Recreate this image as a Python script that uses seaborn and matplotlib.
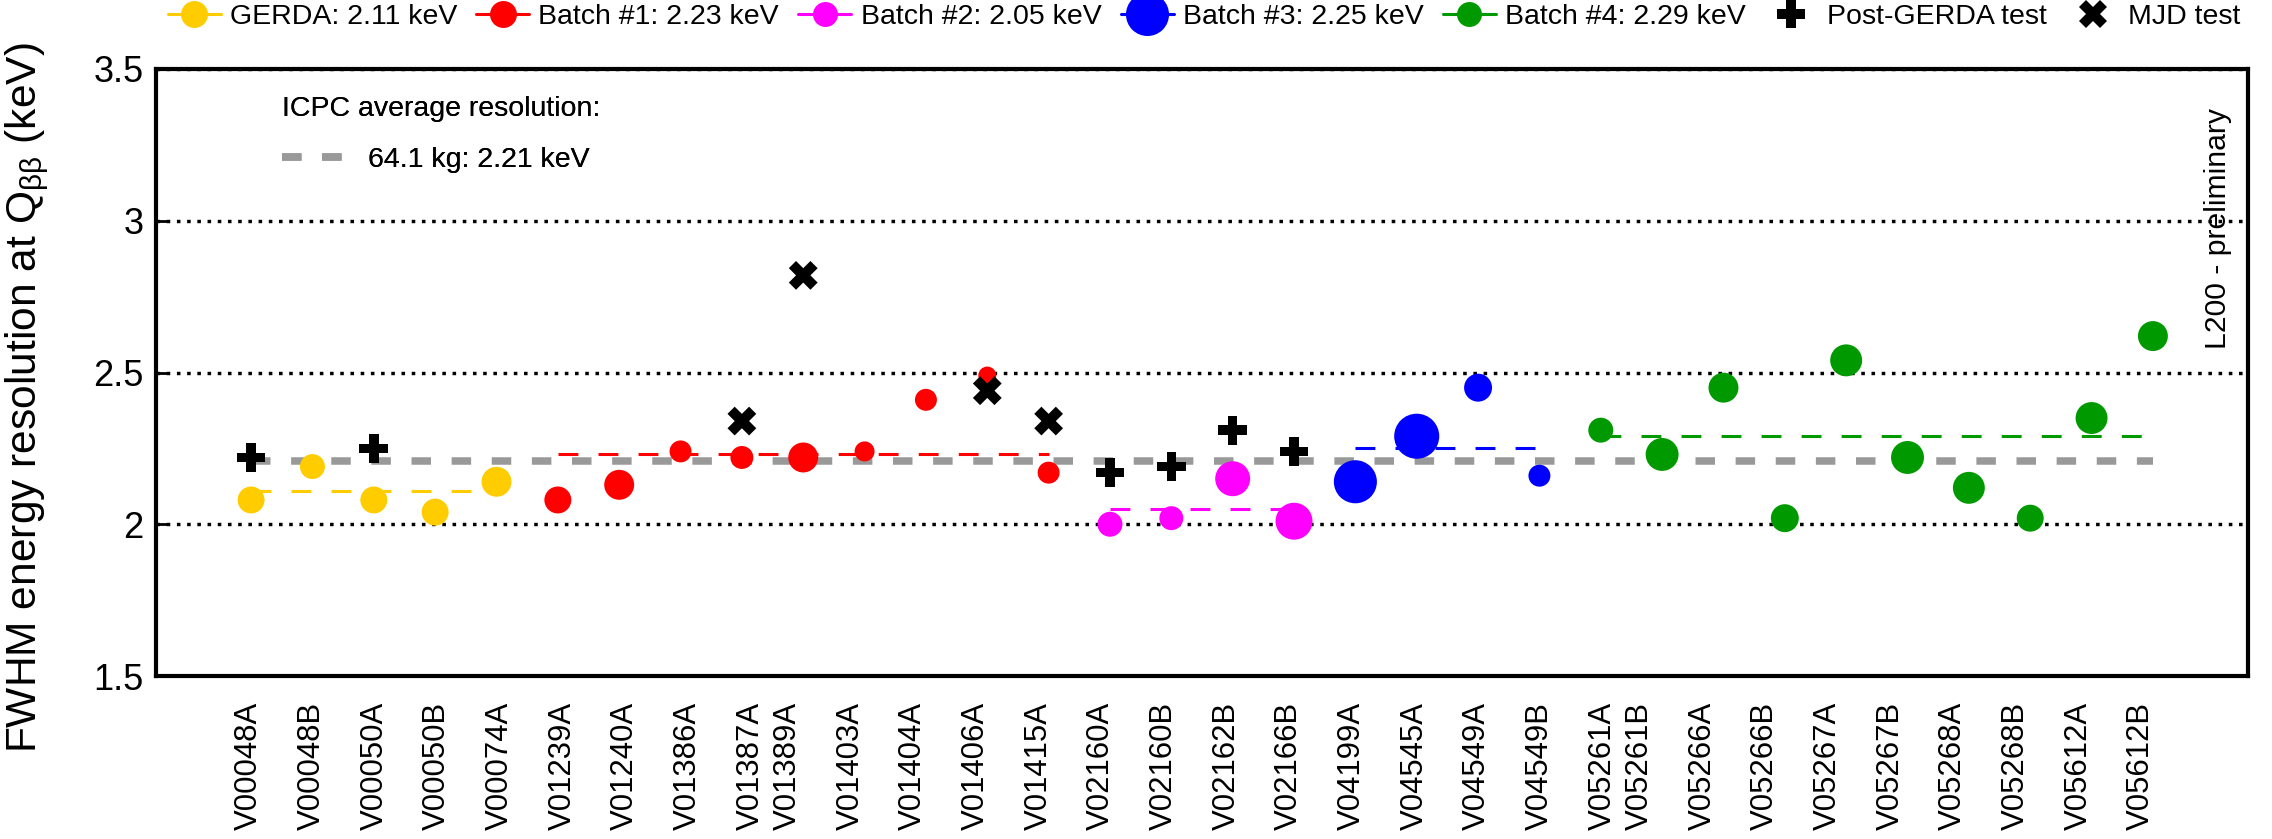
import numpy as np
import pandas as pd
import matplotlib
matplotlib.use("Agg")
import matplotlib.pyplot as plt
from matplotlib.lines import Line2D
import seaborn as sns

# ---------------- data ----------------
gerda_det = ["V00048A", "V00048B", "V00050A", "V00050B", "V00074A"]
batch1_det = ["V01239A", "V01240A", "V01386A", "V01387A", "V01389A",
              "V01403A", "V01404A", "V01406A", "V01415A"]
batch2_det = ["V02160A", "V02160B", "V02162B", "V02166B"]
batch3_det = ["V04199A", "V04545A", "V04549A", "V04549B"]
batch4_det = ["V05261A", "V05261B", "V05266A", "V05266B", "V05267A",
              "V05267B", "V05268A", "V05268B", "V05612A", "V05612B"]

# FWHM energy resolution at Q_bb (keV)
gerda_fwhm = [2.08, 2.19, 2.08, 2.04, 2.14]
batch1_fwhm = [2.08, 2.13, 2.24, 2.22, 2.22, 2.24, 2.41, 2.49, 2.17]
batch2_fwhm = [2.00, 2.02, 2.15, 2.01]
batch3_fwhm = [2.14, 2.29, 2.45, 2.16]
batch4_fwhm = [2.31, 2.23, 2.45, 2.02, 2.54, 2.22, 2.12, 2.02, 2.35, 2.62]

# detector mass (kg) -> marker size
gerda_mass = [1.89, 1.75, 1.89, 1.89, 2.10]
batch1_mass = [1.89, 2.10, 1.54, 1.61, 2.10, 1.40, 1.54, 1.26, 1.54]
batch2_mass = [1.75, 1.68, 2.45, 2.59]
batch3_mass = [3.02, 3.16, 1.96, 1.54]
batch4_mass = [1.75, 2.31, 2.10, 1.96, 2.24, 2.31, 2.24, 1.89, 2.24, 2.10]

batch_names = ["GERDA", "Batch #1", "Batch #2", "Batch #3", "Batch #4"]
batch_avg = [2.11, 2.23, 2.05, 2.25, 2.29]

icpc_total_mass = 64.1
icpc_avg = 2.21

post_gerda_det = ["V00048A", "V00050A", "V02160A", "V02160B", "V02162B", "V02166B"]
post_gerda_fwhm = [2.22, 2.25, 2.17, 2.19, 2.31, 2.24]
mjd_det = ["V01387A", "V01389A", "V01406A", "V01415A"]
mjd_fwhm = [2.34, 2.82, 2.44, 2.34]

# ---------------- assemble ----------------
dets = [gerda_det, batch1_det, batch2_det, batch3_det, batch4_det]
fwhms = [gerda_fwhm, batch1_fwhm, batch2_fwhm, batch3_fwhm, batch4_fwhm]
masses = [gerda_mass, batch1_mass, batch2_mass, batch3_mass, batch4_mass]

df = pd.concat(
    [pd.DataFrame({"detector": d, "fwhm": f, "mass": m, "batch": b})
     for d, f, m, b in zip(dets, fwhms, masses, batch_names)],
    ignore_index=True)
df["x"] = np.arange(len(df))
detectors = list(df["detector"])
pos = {d: i for i, d in enumerate(detectors)}

# ---------------- style ----------------
colors = ["#ffcc00", "#ff0000", "#ff00ff", "#0000ff", "#009a00"]
grey = "#999999"
PX_PER_KG = 14.26          # marker diameter in pixels per kg
DPI = 100
PT_PER_PX = 72.0 / DPI


def diam_pt(mass):
    return np.asarray(mass) * PX_PER_KG * PT_PER_PX


sns.set_theme(style="ticks")
plt.rcParams["font.family"] = ["Liberation Sans", "DejaVu Sans"]
plt.rcParams["mathtext.fontset"] = "custom"
plt.rcParams["mathtext.rm"] = "Liberation Sans"
plt.rcParams["mathtext.it"] = "Liberation Sans:italic"
plt.rcParams["text.color"] = "black"

W, H = 2272, 839
fig = plt.figure(figsize=(W / DPI, H / DPI), dpi=DPI)
ax = fig.add_axes([156 / W, 1 - 676 / H, (2248 - 156) / W, (676 - 69) / H])

# overall average
sns.lineplot(x=[0, len(df) - 1], y=[icpc_avg, icpc_avg], color=grey, lw=5.4,
             linestyle=(0, (2.6, 2.75)), ax=ax, zorder=2, estimator=None)

# batch averages and detectors
for name, avg, col in zip(batch_names, batch_avg, colors):
    sub = df[df["batch"] == name]
    sns.lineplot(x=[sub["x"].min(), sub["x"].max()], y=[avg, avg], color=col,
                 lw=2.2, linestyle=(0, (6.5, 6.6)), ax=ax, zorder=2.5,
                 estimator=None)
    sns.scatterplot(x=sub["x"], y=sub["fwhm"], s=diam_pt(sub["mass"]) ** 2,
                    color=col, edgecolor="none", linewidth=0, ax=ax,
                    zorder=3, legend=False)

# earlier test-stand measurements
sns.scatterplot(x=[pos[d] for d in post_gerda_det], y=post_gerda_fwhm,
                marker="P", s=430, color="black", edgecolor="none",
                linewidth=0, ax=ax, zorder=4, legend=False)
sns.scatterplot(x=[pos[d] for d in mjd_det], y=mjd_fwhm,
                marker="X", s=430, color="black", edgecolor="none",
                linewidth=0, ax=ax, zorder=4, legend=False)

# ---------------- axes ----------------
ax.set_xlim(-1.55, len(df) + 0.55)
ax.set_ylim(1.5, 3.5)
yt = [1.5, 2.0, 2.5, 3.0, 3.5]
ax.set_yticks(yt, ["1.5", "2", "2.5", "3", "3.5"])
ax.tick_params(axis="y", direction="in", length=9.5, width=2, labelsize=26,
               pad=9, colors="black")

# detector names: two pairs of names are printed close together
label_gap = np.ones(len(detectors) - 1)
label_gap[[8, 22]] = 0.6
label_x = np.concatenate([[0.0], np.cumsum(label_gap)])
label_x = label_x * (30.84 / label_x[-1]) - 0.03
ax.set_xticks(label_x, detectors, rotation=90)
ax.tick_params(axis="x", length=0, labelsize=22.4, pad=18.5, colors="black")

ax.grid(axis="y", color="black", lw=2.45, linestyle=(0, (1.05, 1.95)))
ax.set_axisbelow(True)
for sp in ax.spines.values():
    sp.set_visible(True)
    sp.set_linewidth(3)
    sp.set_color("black")

ax.set_xlabel("")
ax.set_ylabel(r"FWHM energy resolution at Q$_{\mathrm{ββ}}$ (keV)",
              fontsize=30.6, loc="top", color="black")
ax.yaxis.set_label_coords(-0.0502, 1.043)

ax.text(0.9857, 0.936, "L200 - preliminary", rotation=90, ha="center",
        va="top", fontsize=21.7, transform=ax.transAxes)

# ---------------- legends ----------------
avg_handle = Line2D([], [], color=grey, lw=5.4, linestyle=(0, (2.6, 2.75)))
leg_avg = ax.legend([avg_handle], [f"{icpc_total_mass} kg: {icpc_avg:.2f} keV"],
                    title="ICPC average resolution:", loc="upper left",
                    bbox_to_anchor=(0.060, 0.956), frameon=False,
                    fontsize=20.5, title_fontsize=20.5, alignment="left",
                    handlelength=2.17, handletextpad=0.88, labelspacing=0.88,
                    borderpad=0, borderaxespad=0)
ax.add_artist(leg_avg)

handles, labels = [], []
for name, avg, col, m in zip(batch_names, batch_avg, colors, masses):
    handles.append(Line2D([], [], color=col, lw=2.2, marker="o",
                          ms=float(diam_pt(m[0])), mfc=col, mec=col, mew=0))
    labels.append(f"{name}: {avg:.2f} keV")
handles.append(Line2D([], [], ls="none", marker="P", ms=20.5, color="black", mew=0))
labels.append("Post-GERDA test")
handles.append(Line2D([], [], ls="none", marker="X", ms=20.5, color="black", mew=0))
labels.append("MJD test")

fig.legend(handles, labels, loc="center", bbox_to_anchor=(0.530, 0.980),
           ncol=7, frameon=False, fontsize=20.5, handlelength=1.86,
           handletextpad=0.32, columnspacing=0.68, borderpad=0,
           borderaxespad=0)

fig.savefig("out.png", dpi=DPI)
